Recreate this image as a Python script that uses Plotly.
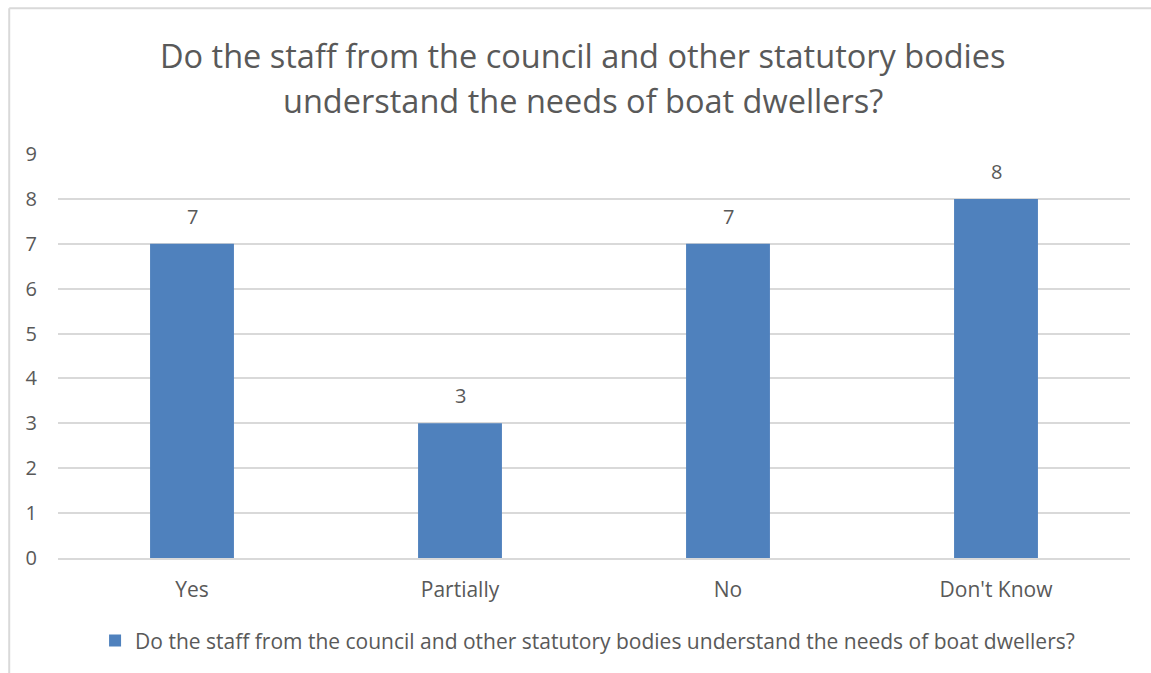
import plotly.graph_objects as go

categories = ["Yes", "Partially", "No", "Don't Know"]
counts = [7, 3, 7, 8]
y_ticks = list(range(0, 10))
series_name = "Do the staff from the council and other statutory bodies understand the needs of boat dwellers?"
title_lines = ["Do the staff from the council and other statutory bodies",
               "understand the needs of boat dwellers?"]

TEXT = "#595959"
BAR = "#4f81bd"
FONT = "Open Sans, Noto Sans, sans-serif"

fig = go.Figure()
fig.add_trace(go.Bar(
    x=categories,
    y=counts,
    name=series_name,
    marker=dict(color=BAR, line=dict(width=0)),
    width=0.313,
    showlegend=True,
))

# value labels above each bar
for c, v in zip(categories, counts):
    fig.add_annotation(x=c, y=v, text=str(v), showarrow=False,
                       yanchor="bottom", yshift=12,
                       font=dict(family=FONT, size=20, color=TEXT))

# two-line chart title, centred on the chart frame
for i, line in enumerate(title_lines):
    fig.add_annotation(xref="paper", yref="paper", x=0.5, xanchor="center", xshift=-11,
                       y=1.0, yanchor="middle", yshift=154 - 55 - 45 * i,
                       text=line, showarrow=False,
                       font=dict(family=FONT, size=32.5, color=TEXT))

fig.update_layout(
    width=1151, height=673,
    margin=dict(l=58, r=21, t=154, b=115),
    paper_bgcolor="white", plot_bgcolor="white",
    font=dict(family=FONT, size=20, color=TEXT),
    bargap=0.687,
    legend=dict(orientation="h", x=0.494, xanchor="center", y=-0.205, yanchor="middle",
                font=dict(family=FONT, size=21, color=TEXT), itemwidth=30,
                itemsizing="constant"),
    xaxis=dict(showgrid=False, showline=True, linecolor="#d9d9d9", linewidth=1.5,
               ticks="", tickfont=dict(size=21, color=TEXT), ticklabelstandoff=12,
               fixedrange=True),
    yaxis=dict(range=[0, 9], tickvals=y_ticks, showgrid=True, gridcolor="#d9d9d9",
               gridwidth=1.5, zeroline=False, showline=False, ticks="",
               tickfont=dict(size=20, color=TEXT), ticklabelstandoff=20,
               fixedrange=True),
    shapes=[
        dict(type="line", xref="paper", yref="paper", x0=-0.0455, x1=1.1, y0=1.361, y1=1.361,
             line=dict(color="#d9d9d9", width=2)),
        dict(type="line", xref="paper", yref="paper", x0=-0.0455, x1=-0.0455, y0=1.361, y1=-0.4,
             line=dict(color="#d9d9d9", width=2)),
    ],
)

fig.write_html("out.html")
